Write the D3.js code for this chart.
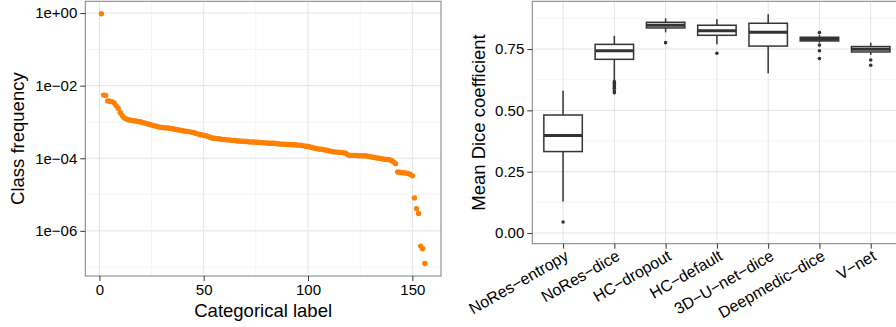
<!DOCTYPE html>
<html>
<head>
<meta charset="utf-8">
<script src="https://cdn.jsdelivr.net/npm/d3@7"></script>
<style>
  body { margin: 0; background: #fff; }
  svg { display: block; font-family: "Liberation Sans", Arial, sans-serif; }
</style>
</head>
<body>
<svg id="chart" width="896" height="327"></svg>
<script>
// ---- left panel: class frequency per categorical label (sorted) ----
const classFreq = [
  0.955, 5.5e-3, 5.4e-3, 3.8e-3, 3.72e-3, 3.63e-3, 3.39e-3, 2.82e-3, 2.4e-3, 1.82e-3,
  1.48e-3, 1.29e-3, 1.2e-3, 1.15e-3, 1.12e-3, 1.1e-3, 1.07e-3, 1.05e-3, 1.02e-3, 1.0e-3,
  9.5e-4, 9.3e-4, 8.9e-4, 8.5e-4, 8.3e-4, 7.9e-4, 7.8e-4, 7.4e-4, 7.2e-4, 7.1e-4,
  6.9e-4, 6.85e-4, 6.8e-4, 6.6e-4, 6.5e-4, 6.3e-4, 6.2e-4, 6.0e-4, 5.9e-4, 5.75e-4,
  5.6e-4, 5.5e-4, 5.4e-4, 5.25e-4, 5.1e-4, 4.9e-4, 4.7e-4, 4.5e-4, 4.4e-4, 4.3e-4,
  4.2e-4, 4.0e-4, 3.8e-4, 3.6e-4, 3.55e-4, 3.5e-4, 3.45e-4, 3.4e-4, 3.3e-4, 3.3e-4,
  3.25e-4, 3.2e-4, 3.15e-4, 3.1e-4, 3.1e-4, 3.0e-4, 3.0e-4, 2.95e-4, 2.95e-4, 2.9e-4,
  2.9e-4, 2.8e-4, 2.8e-4, 2.8e-4, 2.75e-4, 2.75e-4, 2.7e-4, 2.7e-4, 2.65e-4, 2.65e-4,
  2.6e-4, 2.6e-4, 2.6e-4, 2.6e-4, 2.5e-4, 2.5e-4, 2.45e-4, 2.45e-4, 2.45e-4, 2.4e-4,
  2.4e-4, 2.35e-4, 2.35e-4, 2.35e-4, 2.3e-4, 2.3e-4, 2.25e-4, 2.2e-4, 2.15e-4, 2.1e-4,
  2.05e-4, 2.0e-4, 1.9e-4, 1.85e-4, 1.8e-4, 1.78e-4, 1.74e-4, 1.7e-4, 1.66e-4, 1.62e-4,
  1.55e-4, 1.51e-4, 1.48e-4, 1.48e-4, 1.45e-4, 1.45e-4, 1.41e-4, 1.38e-4, 1.26e-4, 1.2e-4,
  1.2e-4, 1.2e-4, 1.2e-4, 1.17e-4, 1.17e-4, 1.17e-4, 1.17e-4, 1.15e-4, 1.12e-4, 1.1e-4,
  1.07e-4, 1.05e-4, 1.02e-4, 1.0e-4, 9.8e-5, 9.5e-5, 9.3e-5, 9.3e-5, 9.1e-5, 8.7e-5,
  7.9e-5, 7.1e-5, 4.2e-5, 4.1e-5, 4.0e-5, 4.0e-5, 3.9e-5, 3.8e-5, 3.6e-5, 3.3e-5,
  8.1e-6, 4.1e-6, 3.0e-6, 3.8e-7, 3.2e-7, 1.26e-7
];
const labelTicks = [0, 50, 100, 150];
const labelMinorTicks = [25, 75, 125];
const freqTicks = [1, 1e-2, 1e-4, 1e-6];
const freqTickLabels = ['1e+00', '1e\u221202', '1e\u221204', '1e\u221206'];
const freqMinorTicks = [1e-1, 1e-3, 1e-5, 1e-7];

// ---- right panel: mean Dice coefficient per method ----
const methods = ['NoRes\u2212entropy', 'NoRes\u2212dice', 'HC\u2212dropout', 'HC\u2212default',
  '3D\u2212U\u2212net\u2212dice', 'Deepmedic\u2212dice', 'V\u2212net'];
const whiskerLow = [0.128, 0.624, 0.818, 0.769, 0.651, 0.776, 0.726];
const q1 = [0.332, 0.708, 0.836, 0.806, 0.762, 0.783, 0.738];
const medians = [0.397, 0.743, 0.847, 0.825, 0.818, 0.790, 0.749];
const q3 = [0.481, 0.769, 0.859, 0.847, 0.855, 0.798, 0.760];
const whiskerHigh = [0.580, 0.804, 0.875, 0.871, 0.892, 0.807, 0.776];
const outliers = [
  [0.045],
  [0.617, 0.611, 0.603, 0.596, 0.590, 0.580, 0.572],
  [0.776],
  [0.733],
  [],
  [0.817, 0.766, 0.743, 0.711],
  [0.705, 0.684]
];
const diceTicks = [0, 0.25, 0.5, 0.75];
const diceTickLabels = ['0.00', '0.25', '0.50', '0.75'];
const diceMinorTicks = [0.125, 0.375, 0.625, 0.875];

const gridMajor = '#e3e3e3';
const gridMinor = '#f5f5f5';
const borderColor = '#7f7f7f';
const ink = '#333333';

const svg = d3.select('#chart');

function styleAxis(g) {
  g.select('.domain').remove();
  g.selectAll('.tick line').attr('stroke', ink).attr('stroke-width', 1);
  g.selectAll('.tick text').attr('fill', '#000').style('font-size', '15px');
}

// ================= left panel =================
const L = { left: 85.3, right: 441, top: 1.3, bottom: 276 };
const n = classFreq.length;
const xPad = (n - 1) * 0.05;
const x = d3.scaleLinear().domain([1 - xPad, n + xPad]).range([L.left, L.right]);
const logExt = d3.extent(classFreq, d => Math.log10(d));
const yPad = (logExt[1] - logExt[0]) * 0.05;
const y = d3.scaleLog()
  .domain([Math.pow(10, logExt[0] - yPad), Math.pow(10, logExt[1] + yPad)])
  .range([L.bottom, L.top]);

const left = svg.append('g');
left.append('rect')
  .attr('x', L.left).attr('y', L.top)
  .attr('width', L.right - L.left).attr('height', L.bottom - L.top)
  .attr('fill', '#fff');

left.selectAll('.xminor').data(labelMinorTicks).join('line')
  .attr('x1', d => x(d)).attr('x2', d => x(d))
  .attr('y1', L.top).attr('y2', L.bottom)
  .attr('stroke', gridMinor);
left.selectAll('.yminor').data(freqMinorTicks).join('line')
  .attr('x1', L.left).attr('x2', L.right)
  .attr('y1', d => y(d)).attr('y2', d => y(d))
  .attr('stroke', gridMinor);
left.selectAll('.xmajor').data(labelTicks).join('line')
  .attr('x1', d => x(d)).attr('x2', d => x(d))
  .attr('y1', L.top).attr('y2', L.bottom)
  .attr('stroke', gridMajor);
left.selectAll('.ymajor').data(freqTicks).join('line')
  .attr('x1', L.left).attr('x2', L.right)
  .attr('y1', d => y(d)).attr('y2', d => y(d))
  .attr('stroke', gridMajor);

left.append('g').selectAll('circle')
  .data(classFreq)
  .join('circle')
  .attr('cx', (d, i) => x(i + 1))
  .attr('cy', d => y(d))
  .attr('r', 2.7)
  .attr('fill', '#ff7f00');

left.append('rect')
  .attr('x', L.left).attr('y', L.top)
  .attr('width', L.right - L.left).attr('height', L.bottom - L.top)
  .attr('fill', 'none').attr('stroke', borderColor).attr('stroke-width', 1);

left.append('g')
  .attr('transform', `translate(0,${L.bottom})`)
  .call(d3.axisBottom(x).tickValues(labelTicks).tickFormat(d3.format('d')).tickSize(5).tickPadding(3))
  .call(styleAxis);

left.append('g')
  .attr('transform', `translate(${L.left},0)`)
  .call(d3.axisLeft(y).tickValues(freqTicks)
    .tickFormat((d, i) => freqTickLabels[i]).tickSize(5).tickPadding(3))
  .call(styleAxis);

left.append('text')
  .attr('x', (L.left + L.right) / 2).attr('y', 317)
  .attr('text-anchor', 'middle')
  .style('font-size', '18.5px')
  .text('Categorical label');

left.append('text')
  .attr('transform', `translate(24,${(L.top + L.bottom) / 2}) rotate(-90)`)
  .attr('text-anchor', 'middle')
  .style('font-size', '18.5px')
  .text('Class frequency');

// ================= right panel =================
const R = { left: 532.3, right: 901.5, top: 1.3, bottom: 243.7 };
const xb = d3.scalePoint().domain(methods).range([R.left, R.right]).padding(0.6);
const yb = d3.scaleLinear().domain([-0.0436, 0.9446]).range([R.bottom, R.top]);
const boxW = xb.step() * 0.75;

const right = svg.append('g');
right.append('rect')
  .attr('x', R.left).attr('y', R.top)
  .attr('width', R.right - R.left).attr('height', R.bottom - R.top)
  .attr('fill', '#fff');

right.selectAll('.yminor').data(diceMinorTicks).join('line')
  .attr('x1', R.left).attr('x2', R.right)
  .attr('y1', d => yb(d)).attr('y2', d => yb(d))
  .attr('stroke', gridMinor);
right.selectAll('.ymajor').data(diceTicks).join('line')
  .attr('x1', R.left).attr('x2', R.right)
  .attr('y1', d => yb(d)).attr('y2', d => yb(d))
  .attr('stroke', gridMajor);
right.selectAll('.xmajor').data(methods).join('line')
  .attr('x1', d => xb(d)).attr('x2', d => xb(d))
  .attr('y1', R.top).attr('y2', R.bottom)
  .attr('stroke', gridMajor);

const boxes = right.selectAll('.box')
  .data(methods)
  .join('g')
  .attr('class', 'box');

boxes.append('line')
  .attr('x1', d => xb(d)).attr('x2', d => xb(d))
  .attr('y1', (d, i) => yb(whiskerHigh[i])).attr('y2', (d, i) => yb(q3[i]))
  .attr('stroke', ink).attr('stroke-width', 1.5);
boxes.append('line')
  .attr('x1', d => xb(d)).attr('x2', d => xb(d))
  .attr('y1', (d, i) => yb(q1[i])).attr('y2', (d, i) => yb(whiskerLow[i]))
  .attr('stroke', ink).attr('stroke-width', 1.5);
boxes.append('rect')
  .attr('x', d => xb(d) - boxW / 2)
  .attr('y', (d, i) => yb(q3[i]))
  .attr('width', boxW)
  .attr('height', (d, i) => yb(q1[i]) - yb(q3[i]))
  .attr('fill', '#fff').attr('stroke', ink).attr('stroke-width', 1.5);
boxes.append('line')
  .attr('x1', d => xb(d) - boxW / 2).attr('x2', d => xb(d) + boxW / 2)
  .attr('y1', (d, i) => yb(medians[i])).attr('y2', (d, i) => yb(medians[i]))
  .attr('stroke', ink).attr('stroke-width', 3);
boxes.selectAll('circle')
  .data((d, i) => outliers[i].map(v => ({ m: d, v: v })))
  .join('circle')
  .attr('cx', d => xb(d.m))
  .attr('cy', d => yb(d.v))
  .attr('r', 1.8)
  .attr('fill', ink);

right.append('rect')
  .attr('x', R.left).attr('y', R.top)
  .attr('width', R.right - R.left).attr('height', R.bottom - R.top)
  .attr('fill', 'none').attr('stroke', borderColor).attr('stroke-width', 1);

right.append('g')
  .attr('transform', `translate(${R.left},0)`)
  .call(d3.axisLeft(yb).tickValues(diceTicks)
    .tickFormat((d, i) => diceTickLabels[i]).tickSize(5).tickPadding(3))
  .call(styleAxis);

right.append('g')
  .attr('transform', `translate(0,${R.bottom})`)
  .call(d3.axisBottom(xb).tickSize(5).tickFormat(''))
  .call(styleAxis);

// rotated category labels, right end tucked under each tick
right.selectAll('.mlabel')
  .data(methods)
  .join('text')
  .attr('class', 'mlabel')
  .attr('transform', d => `translate(${xb(d) + 1},${R.bottom + 5.5}) rotate(-30)`)
  .attr('text-anchor', 'end')
  .attr('dy', '0.71em')
  .style('font-size', '16px')
  .text(d => d);

right.append('text')
  .attr('transform', `translate(485,${(R.top + R.bottom) / 2}) rotate(-90)`)
  .attr('text-anchor', 'middle')
  .style('font-size', '18.5px')
  .text('Mean Dice coefficient');
</script>
</body>
</html>
